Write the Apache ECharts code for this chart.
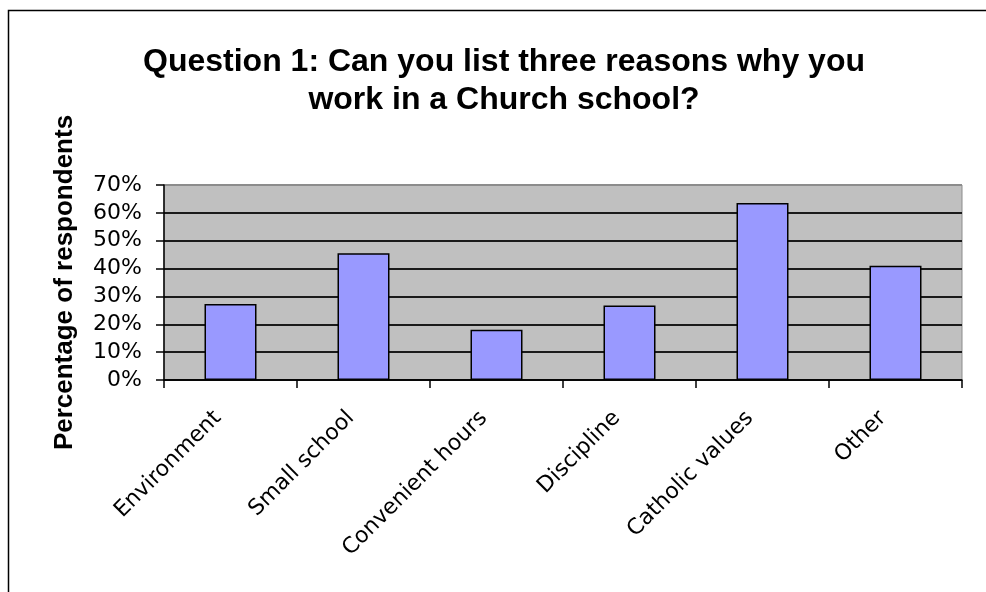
<!DOCTYPE html>
<html>
<head>
<meta charset="utf-8">
<script src="https://cdn.jsdelivr.net/npm/echarts@6/dist/echarts.min.js"></script>
<style>
  html, body { margin: 0; padding: 0; background: #fff; }
  #chart { width: 986px; height: 592px; }
</style>
</head>
<body>
<div id="chart"></div>
<script>
// Survey answers: share of respondents giving each reason
const categories = ['Environment', 'Small school', 'Convenient hours', 'Discipline', 'Catholic values', 'Other'];
const percentages = [27.3, 45.5, 18, 26.7, 63.5, 41];
const yTicks = [0, 10, 20, 30, 40, 50, 60, 70];

const TITLE_FONT = '"Liberation Sans", Arial, sans-serif';
const AXIS_FONT = '"DejaVu Sans", Verdana, sans-serif';
const chart = echarts.init(document.getElementById('chart'));

chart.setOption({
  backgroundColor: '#ffffff',
  animation: false,
  title: {
    text: 'Question 1: Can you list three reasons why you\nwork in a Church school?',
    left: 499,
    top: 38,
    textAlign: 'center',
    textStyle: { fontFamily: TITLE_FONT, fontSize: 32, fontWeight: 'bold', color: '#000', lineHeight: 38 }
  },
  graphic: [{
    type: 'rect',
    shape: { x: 8.5, y: 10.5, width: 1000, height: 600 },
    style: { fill: 'none', stroke: '#000', lineWidth: 1.5 },
    silent: true,
    z: 100
  }],
  grid: {
    left: 164, right: 24, top: 185, bottom: 212,
    show: true,
    backgroundColor: '#C0C0C0',
    borderColor: '#8c8c8c',
    borderWidth: 1
  },
  xAxis: {
    type: 'category',
    data: categories,
    axisLine: { lineStyle: { color: '#000', width: 1.5 } },
    axisTick: { show: true, length: 8, lineStyle: { color: '#000', width: 1.5 } },
    axisLabel: {
      rotate: 45,
      interval: 0,
      margin: 22,
      padding: [0, 18, 0, 0],
      fontFamily: AXIS_FONT,
      fontSize: 22,
      color: '#000'
    }
  },
  yAxis: {
    type: 'value',
    min: yTicks[0],
    max: yTicks[yTicks.length - 1],
    interval: 10,
    name: 'Percentage of respondents',
    nameLocation: 'middle',
    nameGap: 86,
    nameRotate: 90,
    nameTextStyle: { fontFamily: TITLE_FONT, fontSize: 26, fontWeight: 'bold', color: '#000' },
    axisLine: { show: true, lineStyle: { color: '#000', width: 1.5 } },
    axisTick: { show: true, length: 8, lineStyle: { color: '#000', width: 1.5 } },
    axisLabel: {
      formatter: '{value}%',
      margin: 22,
      fontFamily: AXIS_FONT,
      fontSize: 22,
      color: '#000'
    },
    splitLine: {
      show: true,
      lineStyle: {
        color: ['#1a1a1a', '#1a1a1a', '#1a1a1a', '#1a1a1a', '#1a1a1a', '#1a1a1a', '#1a1a1a', '#8c8c8c'],
        width: 2
      }
    }
  },
  series: [{
    type: 'bar',
    data: percentages,
    barWidth: 52,
    itemStyle: { color: '#9999FF', borderColor: '#000', borderWidth: 1.5 }
  }]
});
</script>
</body>
</html>
